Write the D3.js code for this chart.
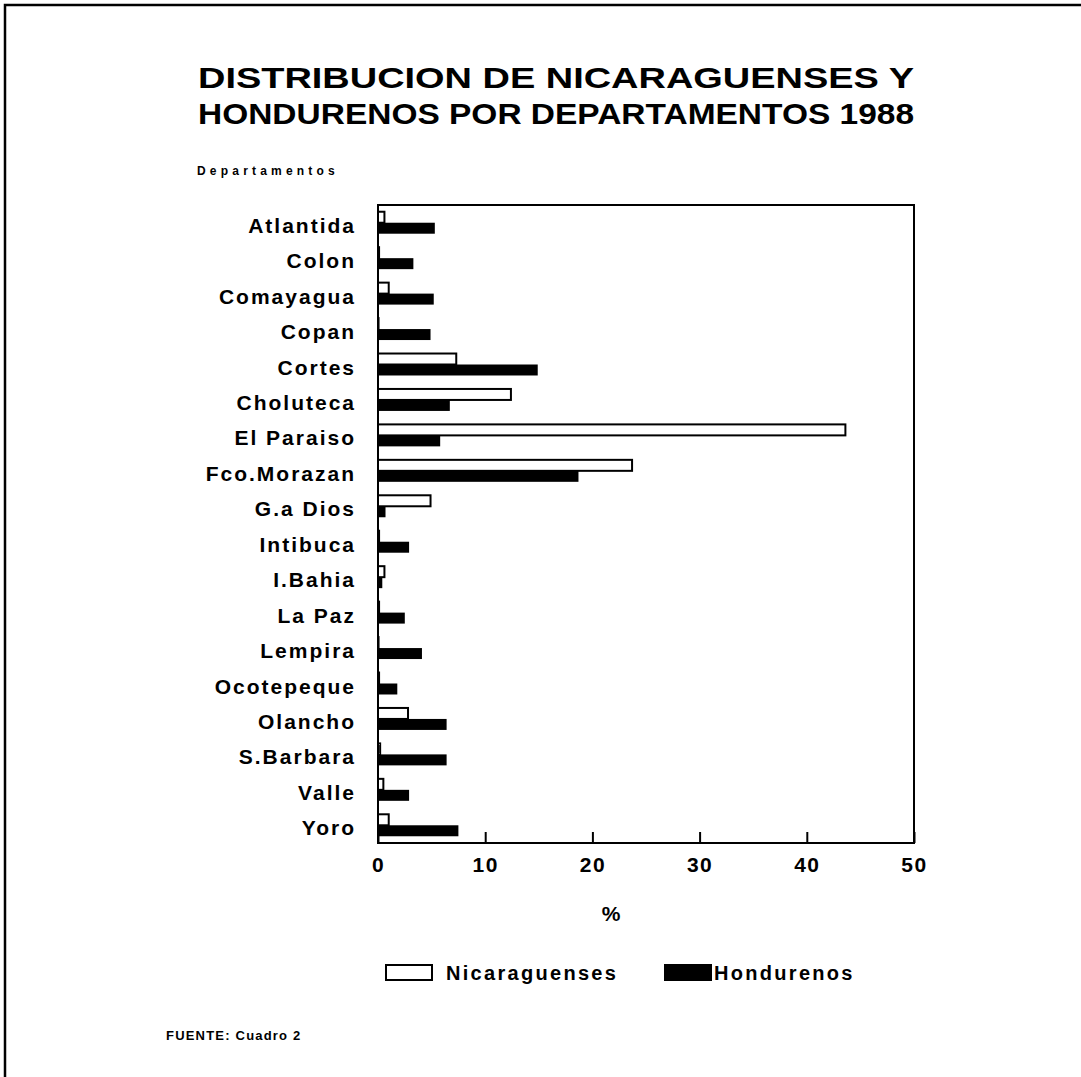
<!DOCTYPE html>
<html>
<head>
<meta charset="utf-8">
<script src="https://cdn.jsdelivr.net/npm/d3@7"></script>
<style>
  body { margin: 0; background: #fff; }
  svg { display: block; }
  text { font-family: "Liberation Sans", Arial, sans-serif; font-weight: bold; fill: #000; }
</style>
</head>
<body>
<svg id="chart" width="1081" height="1077"></svg>
<script>
// departamentos, top to bottom
const departamentos = ["Atlantida", "Colon", "Comayagua", "Copan", "Cortes", "Choluteca",
  "El Paraiso", "Fco.Morazan", "G.a Dios", "Intibuca", "I.Bahia", "La Paz", "Lempira",
  "Ocotepeque", "Olancho", "S.Barbara", "Valle", "Yoro"]

// % per departamento
const nicaraguenses = [0.6, 0.1, 1.0, 0.05, 7.3, 12.4, 43.6, 23.7, 4.9, 0.1, 0.6, 0.1, 0.05, 0.1, 2.8, 0.2, 0.5, 1.0]
const hondurenos = [5.3, 3.3, 5.2, 4.9, 14.9, 6.7, 5.8, 18.7, 0.7, 2.9, 0.4, 2.5, 4.1, 1.8, 6.4, 6.4, 2.9, 7.5]

const series = ["Nicaraguenses", "Hondurenos"]
const xTicks = [0, 10, 20, 30, 40, 50]

const svg = d3.select("#chart")

// page frame (only top and left edges visible)
svg.append("path")
  .attr("d", "M5,1077 V5 H1081")
  .attr("fill", "none")
  .attr("stroke", "#000")
  .attr("stroke-width", 2.5)

// title, stretched to the width of the original lettering
const title = svg.append("text")
  .attr("text-anchor", "middle")
  .style("font-size", "30px")
title.append("tspan").attr("x", 556).attr("y", 88)
  .attr("textLength", 716).attr("lengthAdjust", "spacingAndGlyphs")
  .text("DISTRIBUCION DE NICARAGUENSES Y")
title.append("tspan").attr("x", 556).attr("y", 124)
  .attr("textLength", 716).attr("lengthAdjust", "spacingAndGlyphs")
  .text("HONDURENOS POR DEPARTAMENTOS 1988")

svg.append("text")
  .attr("x", 197).attr("y", 175)
  .style("font-size", "12px")
  .style("letter-spacing", "4.2px")
  .text("Departamentos")

const plot = {left: 378, top: 205, right: 914, bottom: 843}

const x = d3.scaleLinear()
  .domain([0, 50])
  .range([plot.left, plot.right])

const y = d3.scaleBand()
  .domain(departamentos)
  .range([plot.top, plot.bottom])
  .paddingInner(0.38)
  .paddingOuter(0.19)

const ySub = d3.scaleBand()
  .domain(series)
  .range([0, y.bandwidth()])

const rows = departamentos.map((d, i) => ({
  name: d,
  values: [
    {key: "Nicaraguenses", value: nicaraguenses[i]},
    {key: "Hondurenos", value: hondurenos[i]}
  ]
}))

// category labels
svg.selectAll(".cat")
  .data(departamentos)
  .join("text")
  .attr("class", "cat")
  .attr("x", 356)
  .attr("y", d => y(d) + y.bandwidth() / 2 + 10)
  .attr("text-anchor", "end")
  .style("font-size", "21px")
  .style("letter-spacing", "2px")
  .text(d => d)

// bars
const groups = svg.selectAll(".row")
  .data(rows)
  .join("g")
  .attr("class", "row")
  .attr("transform", d => `translate(0,${y(d.name)})`)

groups.selectAll("rect")
  .data(d => d.values)
  .join("rect")
  .attr("x", x(0))
  .attr("y", d => ySub(d.key))
  .attr("width", d => x(d.value) - x(0))
  .attr("height", ySub.bandwidth())
  .attr("fill", d => d.key === "Hondurenos" ? "#000" : "#fff")
  .attr("stroke", "#000")
  .attr("stroke-width", d => d.key === "Hondurenos" ? 0 : 2)

// plot frame
svg.append("rect")
  .attr("x", plot.left).attr("y", plot.top)
  .attr("width", plot.right - plot.left)
  .attr("height", plot.bottom - plot.top)
  .attr("fill", "none")
  .attr("stroke", "#000")
  .attr("stroke-width", 2)

// x axis, ticks pointing inward
const xAxis = svg.append("g")
  .attr("transform", `translate(0,${plot.bottom})`)
  .call(d3.axisBottom(x).tickValues(xTicks).tickSizeInner(-11).tickSizeOuter(0).tickPadding(14))
xAxis.select(".domain").remove()
xAxis.selectAll(".tick line").attr("stroke-width", 2)
xAxis.selectAll(".tick text")
  .style("font-size", "21px")
  .style("font-family", "'Liberation Sans', Arial, sans-serif")
  .style("font-weight", "bold")
  .style("letter-spacing", "1.5px")
  .attr("fill", "#000")

svg.append("text")
  .attr("x", 611).attr("y", 921)
  .attr("text-anchor", "middle")
  .style("font-size", "21px")
  .text("%")

// legend
const legend = [
  {key: "Nicaraguenses", box: 386, text: 446},
  {key: "Hondurenos", box: 665, text: 714}
]
svg.selectAll(".leg-box")
  .data(legend)
  .join("rect")
  .attr("class", "leg-box")
  .attr("x", d => d.box).attr("y", 965)
  .attr("width", 46).attr("height", 15)
  .attr("fill", d => d.key === "Hondurenos" ? "#000" : "#fff")
  .attr("stroke", "#000")
  .attr("stroke-width", 2)
svg.selectAll(".leg-text")
  .data(legend)
  .join("text")
  .attr("class", "leg-text")
  .attr("x", d => d.text).attr("y", 980)
  .style("font-size", "20px")
  .style("letter-spacing", "2.3px")
  .text(d => d.key)

svg.append("text")
  .attr("x", 166).attr("y", 1040)
  .style("font-size", "13px")
  .style("letter-spacing", "1.2px")
  .text("FUENTE: Cuadro 2")
</script>
</body>
</html>
